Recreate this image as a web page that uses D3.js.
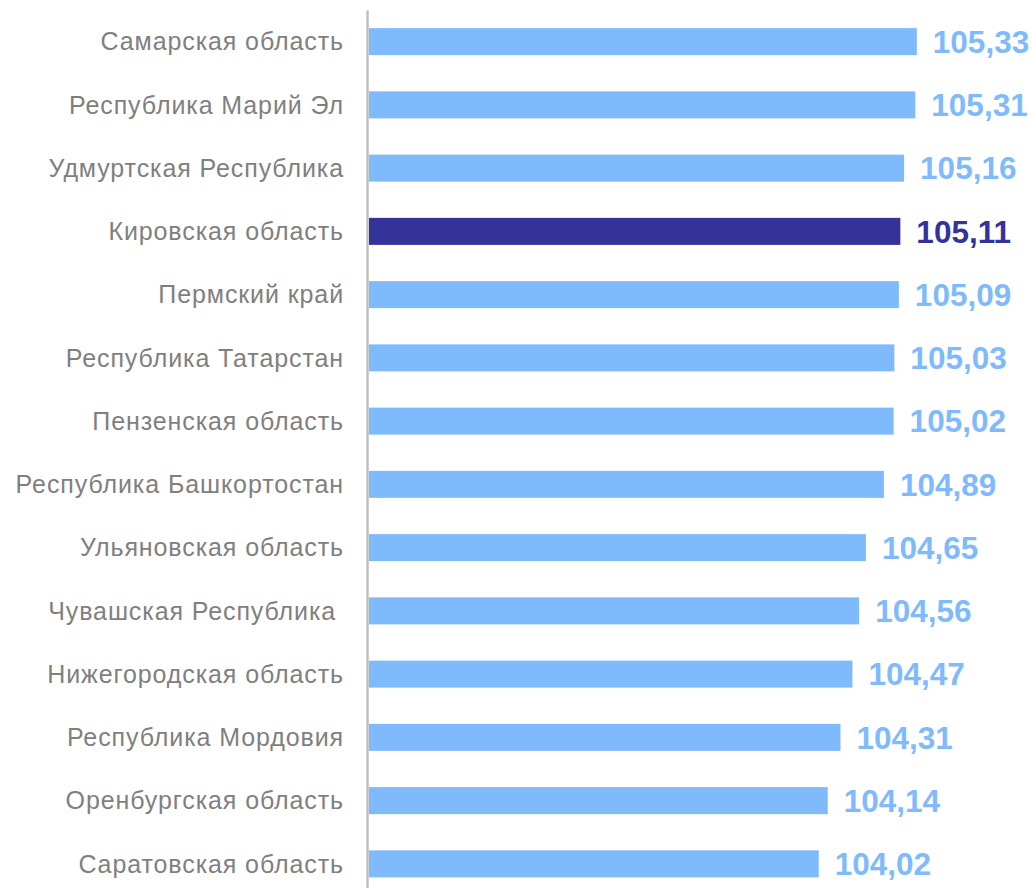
<!DOCTYPE html>
<html lang="ru">
<head>
    <meta charset="UTF-8">
    <title>Регионы ПФО</title>
    <script src="https://d3js.org/d3.v7.min.js"></script>
    <style>
        body { margin: 0; background: #fff; }
        .cat text { fill: #7f7f7f; font-family: "Liberation Sans", Arial, sans-serif; font-size: 25px; letter-spacing: 0.9px; white-space: pre; }
        .cat .domain { stroke: #bfbfbf; stroke-width: 2.5; }
        .val { font-family: "Liberation Sans", Arial, sans-serif; font-size: 31.5px; font-weight: bold; }
    </style>
</head>
<body>
<script>
    // данные
    const regions = [
        "Самарская область", "Республика Марий Эл", "Удмуртская Республика",
        "Кировская область", "Пермский край", "Республика Татарстан",
        "Пензенская область", "Республика Башкортостан", "Ульяновская область",
        "Чувашская Республика ", "Нижегородская область", "Республика Мордовия",
        "Оренбургская область", "Саратовская область"
    ];
    const values = [105.33, 105.31, 105.16, 105.11, 105.09, 105.03, 105.02,
                    104.89, 104.65, 104.56, 104.47, 104.31, 104.14, 104.02];
    const highlight = "Кировская область";

    const width = 1035, height = 888;
    const lightBlue = "#7fbafc", darkBlue = "#333399";

    const svg = d3.select("body").append("svg")
        .attr("width", width)
        .attr("height", height);

    // шкалы
    const x = d3.scaleLinear()
        .domain([98, 106])
        .range([368, 967]);

    const y = d3.scaleBand()
        .domain(regions)
        .range([10, 895.5])
        .paddingInner(0.573)
        .paddingOuter(0.2865);

    // ось категорий
    svg.append("g")
        .attr("class", "cat")
        .attr("transform", "translate(367,0)")
        .call(d3.axisLeft(y).tickSize(0).tickPadding(23).tickSizeOuter(0))
        .call(g => g.selectAll(".tick text").attr("dy", "0.35em"));

    const rows = regions.map((r, i) => ({name: r, value: values[i]}));

    // столбцы
    svg.selectAll("rect.bar")
        .data(rows)
        .enter().append("rect")
        .attr("class", "bar")
        .attr("x", x(98) + 1)
        .attr("y", d => y(d.name))
        .attr("width", d => x(d.value) - x(98) - 1)
        .attr("height", y.bandwidth())
        .attr("fill", d => d.name === highlight ? darkBlue : lightBlue);

    // подписи значений
    svg.selectAll("text.val")
        .data(rows)
        .enter().append("text")
        .attr("class", "val")
        .attr("x", d => x(d.value) + 16)
        .attr("y", d => y(d.name) + y.bandwidth() / 2)
        .attr("dy", "0.36em")
        .attr("fill", d => d.name === highlight ? darkBlue : lightBlue)
        .text(d => d.value.toFixed(2).replace(".", ","));
</script>
</body>
</html>
